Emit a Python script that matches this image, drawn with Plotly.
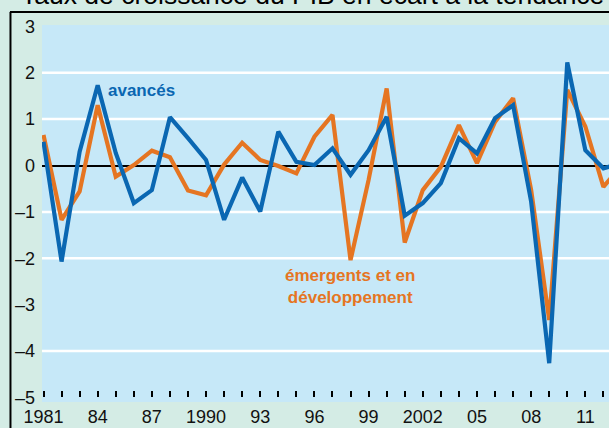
import plotly.graph_objects as go

years = list(range(1981, 2014))
avances = [0.51, -2.07, 0.30, 1.73, 0.27, -0.81, -0.53, 1.04, 0.59, 0.12,
           -1.17, -0.26, -0.99, 0.73, 0.08, 0.01, 0.37, -0.20, 0.33, 1.05,
           -1.08, -0.81, -0.38, 0.59, 0.26, 1.02, 1.30, -0.78, -4.26, 2.22,
           0.33, -0.06, 0.05]
emergents = [0.66, -1.17, -0.56, 1.30, -0.24, 0.01, 0.32, 0.18, -0.54, -0.64,
             0.02, 0.49, 0.12, -0.01, -0.17, 0.62, 1.09, -2.04, -0.31, 1.66,
             -1.66, -0.53, -0.03, 0.87, 0.05, 0.94, 1.45, -0.53, -3.33, 1.63,
             0.84, -0.46, 0.00]

x_tick_vals = list(range(1981, 2013))
x_label_map = {1981: "1981", 1984: "84", 1987: "87", 1990: "1990", 1993: "93",
               1996: "96", 1999: "99", 2002: "2002", 2005: "05", 2008: "08", 2011: "11"}
x_tick_text = [x_label_map.get(y, "") for y in x_tick_vals]

y_tick_vals = [3, 2, 1, 0, -1, -2, -3, -4, -5]
y_tick_text = ["3", "2", "1", "0", "–1", "–2", "–3", "–4", "–5"]
grid_levels = [2, 1, -1, -2, -4]

title_text = "Taux de croissance du PIB en écart à la tendance"
label_avances = "avancés"
label_emergents = "émergents et en<br>développement"

BLUE = "#0a67b2"
ORANGE = "#e57522"
PAPER = "#d4ece5"
PLOT = "#c6e8f8"
FONT = "Liberation Sans, Arial, sans-serif"

fig = go.Figure()
fig.add_trace(go.Scatter(x=years, y=emergents, mode="lines",
                         line=dict(color=ORANGE, width=4.2), name="emergents"))
fig.add_trace(go.Scatter(x=years, y=avances, mode="lines",
                         line=dict(color=BLUE, width=4.2), name="avances"))

for g in grid_levels:
    fig.add_shape(type="line", xref="paper", yref="y", x0=0, x1=1, y0=g, y1=g,
                  line=dict(color="white", width=2.5), layer="below")

# frame
fig.add_shape(type="line", xref="paper", yref="paper", x0=-0.0556, x1=-0.0556,
              y0=1.0345, y1=-0.08, line=dict(color="black", width=2))
fig.add_shape(type="line", xref="paper", yref="paper", x0=-0.0565, x1=1.01,
              y0=1.0345, y1=1.0345, line=dict(color="black", width=2))

fig.add_annotation(text=title_text, xref="paper", yref="paper", x=-0.0405, y=1.0809,
                   xanchor="left", yanchor="middle", showarrow=False,
                   font=dict(family=FONT, size=26.5, color="black"))
fig.add_annotation(text=label_avances, x=1986.45, y=1.61, showarrow=False,
                   font=dict(family=FONT, size=17, color=BLUE, weight="bold"))
fig.add_annotation(text=label_emergents, x=1997.97, y=-2.60, showarrow=False,
                   font=dict(family=FONT, size=17, color=ORANGE, weight="bold"))

fig.update_layout(
    template="none",
    width=609, height=428,
    margin=dict(l=42, r=0, t=25, b=26, autoexpand=False),
    paper_bgcolor=PAPER, plot_bgcolor=PLOT,
    showlegend=False,
    font=dict(family=FONT, size=18, color="#111"),
    xaxis=dict(range=[1980.917, 2012.31], tickvals=x_tick_vals, ticktext=x_tick_text,
               ticks="inside", ticklen=6, tickwidth=2, tickcolor="black",
               showgrid=False, zeroline=False, showline=False,
               anchor="free", position=0.012, automargin=False,
               ticklabelstandoff=7, tickfont=dict(size=18)),
    yaxis=dict(range=[-5.097, 3.028], tickvals=y_tick_vals, ticktext=y_tick_text,
               showgrid=False, zeroline=True, zerolinecolor="black", zerolinewidth=1.5,
               ticks="", ticklabelstandoff=6, automargin=False, tickfont=dict(size=18)),
)

fig.write_html("out.html", config={"displayModeBar": False},
               post_script="document.body.style.margin='0px';document.body.style.overflow='hidden';")
